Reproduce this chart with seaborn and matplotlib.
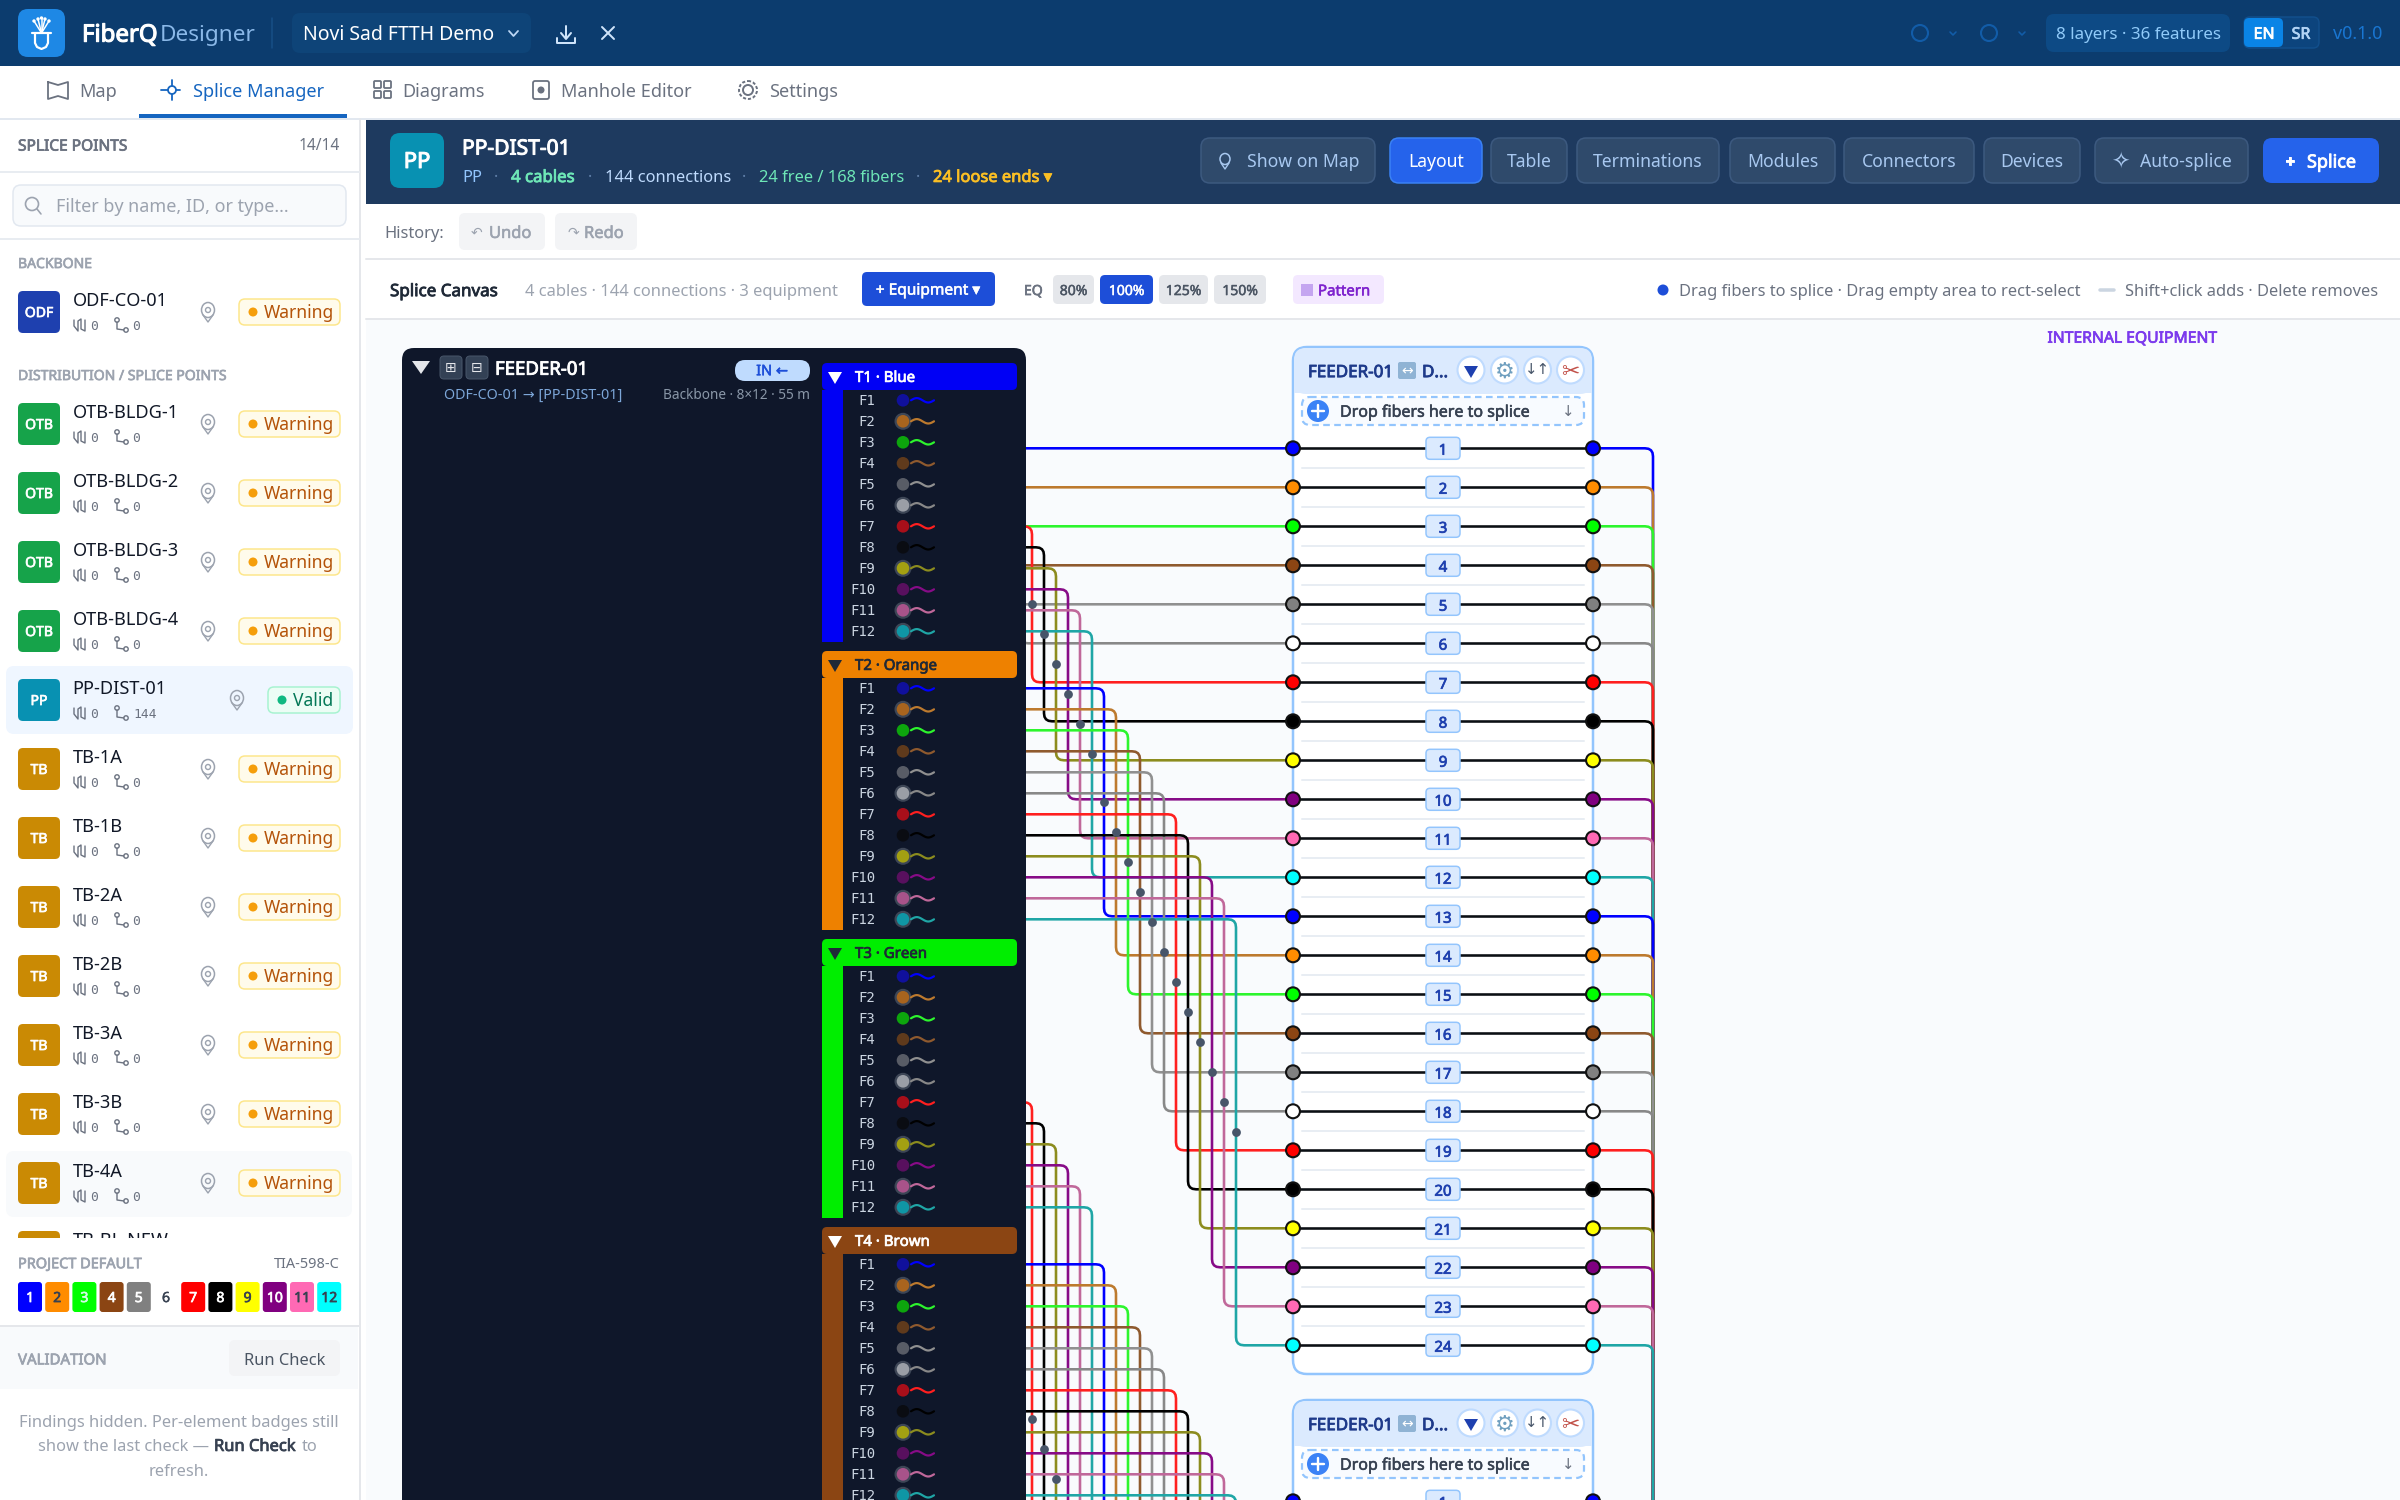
import numpy as np
import pandas as pd
import matplotlib
matplotlib.use("Agg")
import matplotlib.pyplot as plt
import matplotlib.patheffects as pe
from matplotlib.patches import FancyBboxPatch, Rectangle, Circle, Polygon, Ellipse
import seaborn as sns

# ---- data ----
backbone_names = ["ODF-CO-01"]
dist_names = ["OTB-BLDG-1", "OTB-BLDG-2", "OTB-BLDG-3", "OTB-BLDG-4", "PP-DIST-01", "TB-1A", "TB-1B",
              "TB-2A", "TB-2B", "TB-3A", "TB-3B", "TB-4A", "TB-BL-NEW"]
dist_kinds = ["OTB", "OTB", "OTB", "OTB", "PP", "TB", "TB", "TB", "TB", "TB", "TB", "TB", "TB"]
kind_colors = {"ODF": "#1e40af", "OTB": "#16a34a", "PP": "#0891b2", "TB": "#ca8a04"}

tube_names = ["T1 · Blue", "T2 · Orange", "T3 · Green", "T4 · Brown"]
tube_colors = ["#0000f5", "#ee8100", "#00ee00", "#8b4513"]
tube_text = ["white", "#1f2937", "#1f2937", "white"]

port_colors = ["#0000ff", "#ff8c00", "#00ff00", "#8b4513", "#808080", "#ffffff",
               "#ff0000", "#000000", "#ffff00", "#800080", "#ff69b4", "#00ffff"]
line_colors = ["#0000ff", "#bd7a2e", "#2df52d", "#8f5a2e", "#909090", "#888888",
               "#ff1f1f", "#000000", "#8c8c1e", "#870b87", "#c0689a", "#1fa6a6"]
dot_colors = ["#10109c", "#a8641e", "#0da50d", "#5f3a1c", "#585c66", "#9a9ea6",
              "#a80f1a", "#0a0c12", "#a3a012", "#58105e", "#a8538a", "#0f96a5"]
halo_fibers = [1, 5, 8, 10, 11]

swatch_labels = ["1", "2", "3", "4", "5", "6", "7", "8", "9", "10", "11", "12"]
swatch_text = ["white", "#374151", "#d1fae5", "white", "white", "#374151",
               "white", "white", "#374151", "white", "#374151", "#374151"]

header_buttons = [("Show on Map", 1201, 1375), ("Layout", 1390, 1482), ("Table", 1491, 1567),
                  ("Terminations", 1577, 1719), ("Modules", 1730, 1835), ("Connectors", 1844, 1974),
                  ("Devices", 1984, 2080), ("Auto-splice", 2095, 2248)]
zoom_buttons = [("80%", 1053, 1094), ("100%", 1100, 1153), ("125%", 1159, 1208), ("150%", 1214, 1266)]
nav_tabs = [("Map", 79), ("Splice Manager", 193), ("Diagrams", 402), ("Manhole Editor", 561), ("Settings", 769)]

sns.set_theme(style="white")
plt.rcParams["font.family"] = ["Noto Sans", "DejaVu Sans"]
plt.rcParams["patch.force_edgecolor"] = False

fig = plt.figure(figsize=(24, 15), dpi=100)
ax = fig.add_axes([0, 0, 1, 1])


def rbox(x0, y0, x1, y1, r=0, fc="none", ec="none", lw=0, z=10, **kw):
    if r > 0:
        p = FancyBboxPatch((x0, y0), x1 - x0, y1 - y0, boxstyle=f"round,pad=0,rounding_size={r}",
                           fc=fc, ec=ec, lw=lw * 0.72, zorder=z, **kw)
    else:
        p = Rectangle((x0, y0), x1 - x0, y1 - y0, fc=fc, ec=ec, lw=lw * 0.72, zorder=z, **kw)
    ax.add_patch(p)
    return p


def txt(x, y, s, px=20, color="#111827", weight="normal", ha="left", z=20, family=None):
    # y is the optical middle of the capitals, px the css size on screen
    kw = {"family": family} if family else {}
    t = ax.text(x, y + 0.36 * px, s, fontsize=px * 0.72, color=color, ha=ha, va="baseline", zorder=z, **kw)
    # only the regular cut of Noto Sans gets picked, so thicken bold text with a stroke
    if weight in ("bold", "600"):
        w = px * (0.034 if weight == "bold" else 0.024)
        t.set_path_effects([pe.withStroke(linewidth=w, foreground=color)])
    return t


def stroke(xs, ys, color, lw=2, z=20, **kw):
    ax.plot(xs, ys, color=color, lw=lw * 0.72, zorder=z, solid_capstyle="round", **kw)


def rounded(points, r=8, n=5):
    # polyline with rounded corners
    out = [points[0]]
    for a, b, c in zip(points[:-2], points[1:-1], points[2:]):
        a, b, c = np.array(a, float), np.array(b, float), np.array(c, float)
        la, lc = np.linalg.norm(a - b), np.linalg.norm(c - b)
        if la == 0 or lc == 0:
            continue
        rr = min(r, la / 2, lc / 2)
        p0 = b + (a - b) / la * rr
        p1 = b + (c - b) / lc * rr
        for t in np.linspace(0, 1, n):
            out.append(tuple((1 - t) ** 2 * p0 + 2 * t * (1 - t) * b + t ** 2 * p1))
    out.append(points[-1])
    return out


# ---- fibres, through seaborn ----
def port_y(box, idx):
    return 448.3 + 1053 * box + 39.0 * idx


rows, mids, ports = [], [], []
for t in range(4):
    for f in range(12):
        sy = 400.3 + 288 * t + 21 * f
        box, idx = t // 2, (t % 2) * 12 + f
        py, cx = port_y(box, idx), 1032 + 12 * (idx - 6)
        key = f"L{t}-{f}"
        for x, y in rounded([(900, sy), (cx, sy), (cx, py), (1293, py)]):
            rows.append((key, x, y, line_colors[f]))
        if cx > 1026:
            mids.append((cx, (sy + py) / 2))
        ports.append((1293, py, port_colors[f]))
        ports.append((1593, py, port_colors[f]))
        if box == 0:
            key = f"R{t}-{f}"
            for x, y in rounded([(1593, py), (1653, py), (1653, 1700)]):
                rows.append((key, x, y, line_colors[f]))

fibers = pd.DataFrame(rows, columns=["fiber", "x", "y", "color"])
pal = dict(zip(fibers["fiber"], fibers["color"]))
sns.lineplot(data=fibers, x="x", y="y", hue="fiber", palette=pal, sort=False, estimator=None, errorbar=None,
             legend=False, lw=2.6 * 0.72, zorder=2, ax=ax, solid_joinstyle="round")

mids = pd.DataFrame(mids, columns=["x", "y"])
sns.scatterplot(data=mids, x="x", y="y", color="#475569", s=40, linewidth=0, legend=False, zorder=3, ax=ax)

ports = pd.DataFrame(ports, columns=["x", "y", "color"])
links = pd.DataFrame({"port": np.repeat(np.arange(len(ports) // 2), 2),
                      "x": ports["x"], "y": ports["y"]})
sns.lineplot(data=links, x="x", y="y", units="port", color="#0b0f14", sort=False, estimator=None, errorbar=None,
             legend=False, lw=2.6 * 0.72, zorder=2.5, ax=ax)
sns.scatterplot(data=ports, x="x", y="y", hue="color", palette={c: c for c in port_colors}, s=100,
                edgecolor="#111111", linewidth=1.5, legend=False, zorder=5, ax=ax)

# ---- canvas background and equipment boxes ----
rbox(0, 0, 2400, 1500, fc="#ffffff", z=0)
rbox(366, 320, 2400, 1500, fc="#f9fbfd", z=0.1)

for b in range(2):
    off = 1053 * b
    rbox(1293, 347 + off, 1593, 1374 + off, r=14, fc="#ffffff", ec="#93c5fd", lw=2.5, z=1)
    rbox(1294, 348 + off, 1592, 394 + off, r=12, fc="#dbeafe", z=1.1)
    rbox(1294, 375 + off, 1592, 393 + off, fc="#dbeafe", z=1.1)
    rbox(1302, 397 + off, 1584, 425 + off, r=8, fc="#f8fbff", ec="#93c5fd", lw=2.2, z=1.2, ls=(0, (3, 2)))
    txt(1308, 371 + off, "FEEDER-01", 17, "#1e3a8a", "bold", z=4)
    rbox(1398, 362 + off, 1416, 379 + off, r=2, fc="#8fb3d4", z=4)
    txt(1407, 370 + off, "↔", 14, "white", "normal", "center", z=4.1, family="DejaVu Sans")
    txt(1422, 371 + off, "D...", 17, "#1e3a8a", "bold", z=4)
    for cx in [1471, 1504.5, 1537.5, 1570.5]:
        ax.add_patch(Ellipse((cx, 370 + off), 27, 27, fc="white", ec="#bfdbfe", lw=1.5, zorder=4))
    ax.add_patch(Polygon([(1464, 366 + off), (1478, 366 + off), (1471, 378 + off)], fc="#1e40af", zorder=5))
    txt(1504.5, 370 + off, "⚙", 22, "#6f9fbf", ha="center", family="DejaVu Sans", z=5)
    txt(1537.5, 369 + off, "↓↑", 15, "#475569", ha="center", family="DejaVu Sans", z=5)
    txt(1570.5, 370 + off, "✂", 22, "#c2524a", ha="center", family="DejaVu Sans", z=5)
    ax.add_patch(Circle((1318, 411 + off), 11, fc="#3b82f6", zorder=4))
    stroke([1312, 1324], [411 + off] * 2, "white", 2.4, z=5)
    stroke([1318, 1318], [405 + off, 417 + off], "white", 2.4, z=5)
    txt(1340, 411 + off, "Drop fibers here to splice", 16, "#374151", "600", z=4)
    txt(1568, 411 + off, "↓", 15, "#6b7280", ha="center", family="DejaVu Sans", z=4)
    for i in range(24):
        py = port_y(b, i)
        if py > 1520:
            break
        if i < 23:
            stroke([1302, 1584], [py + 19.5] * 2, "#e8edf3", 2, z=1.3)
        rbox(1426, py - 11, 1460, py + 11, r=4, fc="#dbeafe", ec="#93c5fd", lw=1.5, z=4)
        txt(1443, py + 1, str(i + 1), 15, "#1e40af", "bold", "center", z=4.5)

txt(2132, 337, "INTERNAL EQUIPMENT", 15.7, "#7c3aed", "bold", "center")

# ---- dark cable panel ----
rbox(402, 348, 1026, 1560, r=12, fc="#0f172a", z=6)
ax.add_patch(Polygon([(412, 361), (430, 361), (421, 374)], fc="#e5e7eb", zorder=7))
for x0, x1 in [(440, 462), (466, 488)]:
    rbox(x0, 356, x1, 379, r=4, fc="#334155", ec="#475569", lw=1, z=7)
txt(451, 367, "⊞", 14, "#e5e7eb", ha="center", family="DejaVu Sans")
txt(477, 367, "⊟", 14, "#e5e7eb", ha="center", family="DejaVu Sans")
txt(495, 368, "FEEDER-01", 18.6, "white", "bold")
rbox(735, 360, 810, 381, r=10, fc="#bfdbfe", z=7)
txt(772, 370, "IN ←", 14.5, "#1d4ed8", "600", "center")
txt(444, 394, "ODF-CO-01 → [PP-DIST-01]", 14.3, "#7da7d9")
txt(810, 394, "Backbone · 8×12 · 55 m", 13.6, "#8a97a8", ha="right")

for t in range(4):
    top = 363 + 288 * t
    rbox(822, top + 27, 843, top + 279, fc=tube_colors[t], z=7)
    rbox(822, top, 1017, top + 27, r=5, fc=tube_colors[t], z=7)
    ax.add_patch(Polygon([(828, top + 9), (842, top + 9), (835, top + 21)], fc=tube_text[t], zorder=8))
    txt(855, top + 13.5, tube_names[t], 15, tube_text[t], "bold")
    for f in range(12):
        y = 400.3 + 288 * t + 21 * f
        if y > 1515:
            continue
        txt(875.5, y, f"F{f + 1}", 14, "#cbd5e1", ha="right", family="DejaVu Sans Mono")
        if f in halo_fibers:
            ax.add_patch(Circle((903, y), 8.5, fc="#3d4656", zorder=7))
        ax.add_patch(Circle((903, y), 6.3, fc=dot_colors[f], zorder=8))
        wx = np.linspace(911, 934, 24)
        stroke(wx, y - 2.2 * np.sin((wx - 911) / 23 * 2 * np.pi), line_colors[f], 2.2, z=8)

# ---- top bar ----
rbox(0, 0, 2400, 66, fc="#0c3c6e", z=10)
rbox(18, 9, 65, 57, r=10, fc="#1e88e5", z=11)
stroke([35, 35, 37, 41.5, 46, 48, 48], [34, 43, 47, 49, 47, 43, 34], "white", 2.2, z=12)
stroke([32, 51], [33, 33], "white", 2.2, z=12)
for tipx, tipy in [(34, 21), (38, 19), (41.5, 18), (45, 19), (49, 21)]:
    stroke([41.5, tipx], [33, tipy], "white", 1.5, z=12)
    ax.add_patch(Circle((tipx, tipy), 1.7, fc="white", zorder=12))
txt(82, 33, "FiberQ", 24, "white", "bold")
txt(160, 33, "Designer", 22.6, "#8ab8e8")
stroke([272, 272], [18, 48], "#174f87", 1.5, z=11)
rbox(292, 13, 531, 53, r=8, fc="#0e4478", z=11)
txt(303, 33, "Novi Sad FTTH Demo", 19.4, "white")
stroke([509, 513.5, 518], [31, 36, 31], "#bcd7f5", 1.8, z=12)
stroke([566, 566], [26, 38], "#cfe4fa", 2, z=12)
stroke([561, 566, 571], [33, 39, 33], "#cfe4fa", 2, z=12)
stroke([557, 557, 575, 575], [38, 43, 43, 38], "#cfe4fa", 2, z=12)
stroke([602, 614], [27, 39], "#cfe4fa", 2, z=12)
stroke([614, 602], [27, 39], "#cfe4fa", 2, z=12)
for cx in [1920, 1989]:
    ax.add_patch(Circle((cx, 33), 8, fc="none", ec="#125ca8", lw=1.5, zorder=12))
for cx in [1953, 2022]:
    stroke([cx - 3, cx, cx + 3], [32, 35, 32], "#125ca8", 1.6, z=12)
rbox(2046, 14, 2230, 52, r=8, fc="#0d4a85", z=11)
txt(2138, 33, "8 layers · 36 features", 17, "#90caf9", ha="center")
rbox(2244, 17, 2319, 48, r=6, fc="#0c447d", ec="#124f8c", lw=1.5, z=11)
rbox(2244, 18, 2283, 47, r=5, fc="#0a84e6", z=12)
txt(2264, 33, "EN", 16, "white", "bold", "center")
txt(2301, 33, "SR", 16, "#b3d4f5", "bold", "center")
txt(2382, 33, "v0.1.0", 18, "#1976d2", ha="right")

# ---- tab row ----
rbox(0, 66, 2400, 118, fc="white", z=10)
stroke([0, 2400], [118.5, 118.5], "#e2e8f0", 2, z=11)
rbox(139, 114, 347, 118, fc="#1565c0", z=12)
for (name, x), col in zip(nav_tabs, ["#6b7280", "#1565c0", "#6b7280", "#6b7280", "#6b7280"]):
    txt(x, 90, name, 18.1, col)
stroke([48, 48, 58, 68, 68, 58, 48], [82, 99, 96, 99, 82, 85, 82], "#6b7280", 1.8, z=12)
stroke([161, 180], [90, 90], "#1565c0", 1.8, z=12)
stroke([172, 172], [80, 100], "#1565c0", 1.8, z=12)
ax.add_patch(Circle((172, 90), 4, fc="white", ec="#1565c0", lw=1.3, zorder=13))
for gx, gy in [(374, 81), (384, 81), (374, 91), (384, 91)]:
    rbox(gx, gy, gx + 7, gy + 7, r=1, ec="#6b7280", lw=1.8, z=12)
rbox(533, 81, 549, 99, r=2, ec="#6b7280", lw=1.8, z=12)
ax.add_patch(Circle((541, 90), 3.5, fc="#6b7280", zorder=13))
ax.add_patch(Circle((748, 90), 5, fc="none", ec="#6b7280", lw=1.4, zorder=13))
ax.add_patch(Circle((748, 90), 9, fc="none", ec="#6b7280", lw=1.4, ls=(0, (1.6, 1)), zorder=13))

# ---- sidebar ----
rbox(0, 119, 359, 1500, fc="white", z=10)
stroke([359.5, 359.5], [119, 1500], "#e5e7eb", 2, z=11)
txt(18, 145, "SPLICE POINTS", 15.5, "#6b7280", "bold")
txt(340, 144, "14/14", 15.5, "#6b7280", ha="right")
stroke([0, 359], [172, 172], "#e8ecf1", 2, z=11)
rbox(13, 185, 346, 226, r=8, fc="#f8fafc", ec="#e2e8f0", lw=1.5, z=11)
ax.add_patch(Circle((32, 204), 6.5, fc="none", ec="#9ca3af", lw=1.2, zorder=12))
stroke([37, 41], [209, 214], "#9ca3af", 1.6, z=12)
txt(56, 206, "Filter by name, ID, or type...", 18, "#9ca3af")
stroke([0, 359], [239, 239], "#e8ecf1", 2, z=11)
txt(18, 263, "BACKBONE", 14, "#9ca3af", "bold")
txt(18, 375, "DISTRIBUTION / SPLICE POINTS", 14, "#9ca3af", "bold")


def sidebar_row(cy, name, kind, active=False):
    if active:
        rbox(6, cy - 34, 353, cy + 34, r=8, fc="#eff6ff", z=11)
    if name == "TB-4A":
        rbox(6, cy - 32, 352, cy + 34, r=8, fc="#f8fafc", z=11)
    rbox(18, cy - 21, 60, cy + 21, r=5, fc=kind_colors[kind], z=12)
    txt(72.5, cy - 13, name, 18.2, "#111827")
    if name == "TB-BL-NEW":
        # this row is cut off by the footer, only its top edge shows
        rbox(239, cy - 13, 340, cy + 13, r=6, fc="#fffbeb", ec="#fde68a", lw=1.5, z=12)
        return
    txt(39, cy, kind, 14, "white", "bold", "center")
    # small fibre/route glyphs
    y = cy + 13
    stroke([74, 74, 78, 78, 81, 81, 85, 85], [y - 5, y + 1, y + 6, y - 4, y - 6, y + 4, y + 6, y - 5],
           "#6b7280", 1.4, z=12)
    txt(94.5, y, "0", 13, "#6b7280", ha="center", family="DejaVu Sans Mono")
    stroke([117, 117, 124], [y - 3, y + 4, y + 5], "#6b7280", 1.4, z=12)
    ax.add_patch(Circle((117, y - 5), 2.2, fc="none", ec="#6b7280", lw=1, zorder=12))
    ax.add_patch(Circle((126, y + 5), 2.2, fc="none", ec="#6b7280", lw=1, zorder=12))
    txt(136 if not active else 133, y, "0" if not active else "144", 13, "#6b7280", family="DejaVu Sans Mono",
        ha="center" if not active else "left")
    px = 237 if active else 208
    ax.add_patch(Ellipse((px, cy - 2), 13, 15, fc="none", ec="#9ca3af", lw=1.1, zorder=12))
    ax.add_patch(Circle((px, cy - 2), 2.5, fc="none", ec="#9ca3af", lw=1, zorder=12))
    stroke([px - 5, px, px + 5], [cy + 3, cy + 10, cy + 3], "#9ca3af", 1.4, z=12)
    if active:
        rbox(268, cy - 13, 340, cy + 13, r=6, fc="#ecfdf5", ec="#a7f3d0", lw=1.5, z=12)
        ax.add_patch(Circle((282, cy), 4.5, fc="#10b981", zorder=13))
        txt(293, cy, "Valid", 17.5, "#047857")
    else:
        rbox(239, cy - 13, 340, cy + 13, r=6, fc="#fffbeb", ec="#fde68a", lw=1.5, z=12)
        ax.add_patch(Circle((253, cy), 4.5, fc="#f59e0b", zorder=13))
        txt(264, cy, "Warning", 17.5, "#b45309")


sidebar_row(312, backbone_names[0], "ODF")
for i, (name, kind) in enumerate(zip(dist_names, dist_kinds)):
    sidebar_row(424 + 69 * i, name, kind, active=name == "PP-DIST-01")

rbox(0, 1238, 359, 1500, fc="white", z=21)
txt(18, 1263, "PROJECT DEFAULT", 14.5, "#9ca3af", "bold", z=22)
txt(340, 1263, "TIA-598-C", 14.5, "#6b7280", ha="right", z=22)
for i, (lab, col, tc) in enumerate(zip(swatch_labels, port_colors, swatch_text)):
    x0 = 18 + 27.2 * i
    if i != 5:
        rbox(x0, 1282, x0 + 24, 1312, r=3, fc=col, z=22)
    txt(x0 + 12, 1297, lab, 14, tc, "bold" if i != 5 else "600", "center", z=23)
stroke([0, 359], [1326, 1326], "#e5e7eb", 2, z=23)
rbox(0, 1327, 358, 1389, fc="#f8fafc", z=22)
txt(18, 1359, "VALIDATION", 15, "#9ca3af", "bold", z=23)
rbox(229, 1340, 340, 1376, r=6, fc="#f3f4f6", z=23)
txt(285, 1359, "Run Check", 16.5, "#4b5563", ha="center", z=24)
txt(179, 1421, "Findings hidden. Per-element badges still", 16.5, "#9ca3af", ha="center", z=23)
txt(38, 1445, "show the last check — ", 16.5, "#9ca3af", z=23)
txt(214, 1445, "Run Check", 16.5, "#374151", "bold", z=23)
txt(302, 1445, "to", 16.5, "#9ca3af", z=23)
txt(179, 1470, "refresh.", 16.5, "#9ca3af", ha="center", z=23)

# ---- element header ----
rbox(366, 119, 2400, 204, fc="#1e3a5f", z=10)
rbox(390, 133, 444, 188, r=10, fc="#0891b2", z=11)
txt(417, 160, "PP", 22, "white", "bold", "center")
txt(462, 147, "PP-DIST-01", 21, "white", "bold")
txt(462, 176, "PP", 16.5, "#93c5fd")
txt(511, 176, "4 cables", 16.8, "#6ee7b7", "bold")
txt(605, 176, "144 connections", 16.5, "#bfdbfe")
txt(759, 176, "24 free / 168 fibers", 16.5, "#6ee7b7")
txt(933, 176, "24 loose ends ▾", 16.5, "#fbbf24", "bold")
for x in [496, 590, 744, 918]:
    txt(x, 176, "·", 16.5, "#5f7fa8", ha="center")

for name, x0, x1 in header_buttons:
    active = name == "Layout"
    rbox(x0, 138, x1, 183, r=9, fc="#2563eb" if active else "#2f4a6b",
         ec="#3b82f6" if active else "#3d5a80", lw=1.5, z=11)
    col = "white" if active else "#a8c8f0"
    if name == "Show on Map":
        txt(1247, 161, name, 17.6, col)
        ax.add_patch(Ellipse((1225, 159), 10, 11, fc="none", ec=col, lw=1.1, zorder=13))
        stroke([1221, 1225, 1229], [163, 169, 163], col, 1.4, z=13)
    elif name == "Auto-splice":
        txt(2140, 161, name, 17.6, col)
        txt(2120, 161, "✧", 22, col, ha="center", family="DejaVu Sans")
    else:
        txt((x0 + x1) / 2, 161, name, 17.6, col, ha="center")
rbox(2263, 138, 2379, 183, r=9, fc="#2563eb", z=11)
txt(2290, 161, "+", 18, "white", "bold", "center")
txt(2307, 161, "Splice", 18, "white", "bold")

# ---- history and canvas toolbar ----
rbox(366, 205, 2400, 319, fc="white", z=10)
stroke([366, 2400], [259, 259], "#e5e7eb", 2, z=11)
stroke([366, 2400], [319, 319], "#e5e7eb", 2, z=11)
txt(384, 232, "History:", 16.5, "#6b7280")
rbox(459, 213, 545, 250, r=6, fc="#f3f4f6", z=11)
rbox(555, 213, 637, 250, r=6, fc="#f3f4f6", z=11)
txt(489, 232, "Undo", 16.5, "#9ca3af", "600")
txt(584, 232, "Redo", 16.5, "#9ca3af", "600")
txt(477, 232, "↶", 14, "#9ca3af", ha="center", family="DejaVu Sans")
txt(573, 232, "↷", 14, "#9ca3af", ha="center", family="DejaVu Sans")
txt(390, 290, "Splice Canvas", 17, "#1f2937", "bold")
txt(525, 290, "4 cables · 144 connections · 3 equipment", 16.5, "#9ca3af")
rbox(862, 272, 995, 306, r=5, fc="#1d4ed8", z=11)
txt(928, 289, "+ Equipment ▾", 15.5, "white", "600", "center")
txt(1024, 290, "EQ", 14, "#6b7280", "bold")
for name, x0, x1 in zoom_buttons:
    active = name == "100%"
    rbox(x0, 275, x1, 304, r=5, fc="#1d4ed8" if active else "#e5e7eb", z=11)
    txt((x0 + x1) / 2, 290, name, 14, "white" if active else "#4b5563", "600", "center")
rbox(1293, 275, 1384, 304, r=5, fc="#f3e8ff", z=11)
rbox(1301, 284, 1313, 296, fc="#c4a5f0", z=12)
txt(1318, 290, "Pattern", 15, "#7e22ce", "600")
ax.add_patch(Circle((1663, 290), 5.5, fc="#1d4ed8", zorder=12))
txt(1679, 290, "Drag fibers to splice · Drag empty area to rect-select", 16.5, "#6b7280")
stroke([2100, 2114], [290, 290], "#cbd5e1", 3.5, z=12)
txt(2125, 290, "Shift+click adds · Delete removes", 16.5, "#6b7280")

ax.set_xlim(0, 2400)
ax.set_ylim(1500, 0)
ax.axis("off")
fig.savefig("out.png", dpi=100)
